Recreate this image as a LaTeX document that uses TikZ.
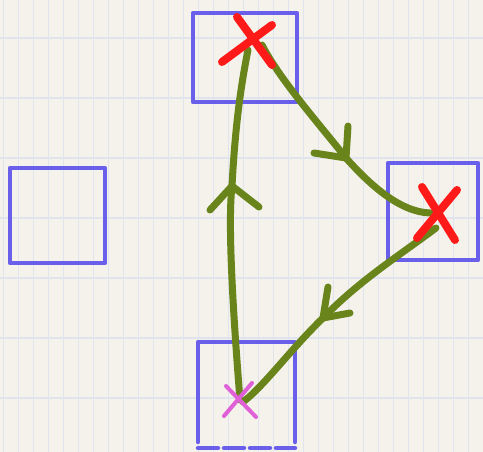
\documentclass[tikz,border=0pt]{standalone}
\begin{document}
\begin{tikzpicture}[x=1pt,y=-1pt,
  line cap=round, line join=round,
  bluebox/.style={draw=penblue, line width=4.5pt, inner sep=0pt},
  greenline/.style={draw=pengreen, line width=7pt},
  redx/.style={draw=penred, line width=8pt},
  pinkx/.style={draw=penpink, line width=4pt},
  gridv/.style={draw=gridblue, line width=0.9pt},
  gridh/.style={draw=gridblue, line width=1.4pt}]
\definecolor{paper}{HTML}{F4F2EA}
\definecolor{gridblue}{HTML}{E0E4EE}
\definecolor{penblue}{HTML}{6A5FEA}
\definecolor{pengreen}{HTML}{6A841C}
\definecolor{penred}{HTML}{FF1A1A}
\definecolor{penpink}{HTML}{E060D8}
% paper
\fill[paper] (0,0) rectangle (483,452);
\useasboundingbox (0,0) rectangle (483,452);
\foreach \gx in {0,15,...,480} \draw[gridv] (\gx+3,0) -- (\gx+3,452);
\foreach \gy in {38,98,...,452} \draw[gridh] (0,\gy) -- (483,\gy);
% boxes
\node[bluebox, minimum width=104pt, minimum height=89pt] (top) at (245,57.5) {};
\node[bluebox, minimum width=95pt, minimum height=95pt] (left) at (57.5,215.5) {};
\node[bluebox, minimum width=90pt, minimum height=97pt] (right) at (433,211.5) {};
\draw[penblue, line width=4.5pt] (198,442) -- (198,342) -- (295,342) -- (295,442);
\draw[penblue, line width=4.5pt, dash pattern=on 20pt off 6pt] (198,448) -- (295,448);
\node[inner sep=0pt, minimum size=97pt] (bottom) at (246.5,395) {};
% marks
\coordinate (xt) at (250,42);
\coordinate (xr) at (436,214);
\coordinate (xb) at (240,400);
% green connectors
\coordinate (a1) at (232,186);
\coordinate (a2) at (346,158);
\coordinate (a3) at (323,318);
\draw[greenline] (xb) .. controls (232,300) and (228,220) .. (a1)
   .. controls (235,130) and (240,90) .. (248,50);
\draw[greenline] (a1) -- (210,210);
\draw[greenline] (a1) -- (259,207);
\draw[greenline] (262,45) .. controls (280,80) and (320,125) .. (a2)
   .. controls (370,185) and (400,212) .. (430,213);
\draw[greenline] (a2) -- (314,153);
\draw[greenline] (a2) -- (348,126);
\draw[greenline] (436,228) .. controls (400,255) and (360,280) .. (a3)
   .. controls (290,350) and (265,385) .. (243,402);
\draw[greenline] (a3) -- (328,287);
\draw[greenline] (a3) -- (350,313);
% X marks on top
\draw[redx] (237,17) -- (272,65);
\draw[redx] (272,25) -- (222,62);
\draw[redx] (422,187) -- (455,240);
\draw[redx] (457,190) -- (417,238);
\draw[pinkx] (226,386) -- (256,417);
\draw[pinkx] (252,383) -- (224,416);
\end{tikzpicture}
\end{document}
